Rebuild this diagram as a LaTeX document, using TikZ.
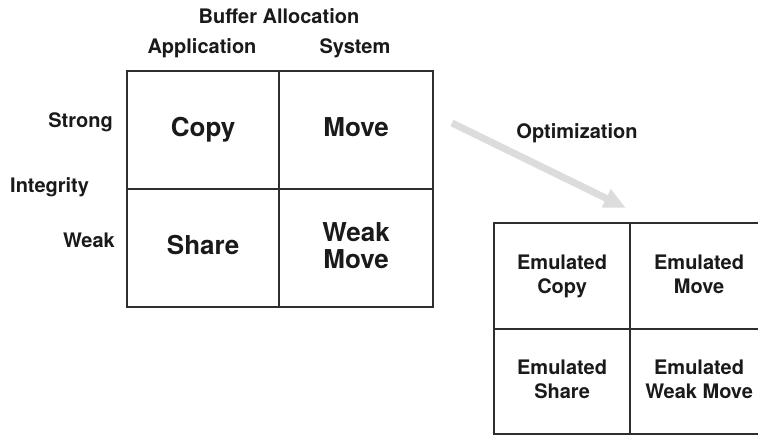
\documentclass[tikz,border=0pt]{standalone}
\usepackage{fontspec}
\setmainfont{TeX Gyre Heros}
\usetikzlibrary{arrows.meta}
\definecolor{ink}{HTML}{1A1A1A}
\definecolor{rule}{HTML}{2E2E2E}
\definecolor{haze}{HTML}{DCDCDC}
\tikzset{
  cell/.style={draw=rule, line width=2.2pt, rectangle, inner sep=0pt, anchor=north west,
    text=ink, font=\bfseries\fontsize{26}{29}\selectfont, align=center,
    execute at end node={\vphantom{y}}},
  ecell/.style={cell, font=\bfseries\fontsize{20}{24}\selectfont},
  lbl/.style={text=ink, font=\bfseries\fontsize{20}{23}\selectfont, inner sep=0pt},
}
\begin{document}
\begin{tikzpicture}[x=1pt, y=-1pt]
  \clip (0,0) rectangle (758,435);
  \fill[white] (0,0) rectangle (758,435);

  % buffer allocation / integrity matrix
  \node[cell, minimum width=152pt, minimum height=118pt] (copy)  at (126,70)  {Copy};
  \node[cell, minimum width=154pt, minimum height=118pt] (move)  at (278,70)  {Move};
  \node[cell, minimum width=152pt, minimum height=118pt] (share) at (126,188) {Share};
  \node[cell, minimum width=154pt, minimum height=118pt] (wmove) at (278,188) {Weak\\[-2pt]Move};

  % axis labels
  \node[lbl] (buf)   at (279,16)  {Buffer Allocation};
  \node[lbl] (app)   at (202,48)  {Application};
  \node[lbl] (sys)   at (355,48)  {System};
  \node[lbl, anchor=east] (strong) at (113,122) {Strong};
  \node[lbl, anchor=west] (integ)  at (10,187)  {Integrity};
  \node[lbl, anchor=east] (weak)   at (115,240) {Weak};

  % emulated matrix
  \node[ecell, minimum width=136pt, minimum height=106pt] (ecopy)  at (493,222) {Emulated\\Copy};
  \node[ecell, minimum width=138pt, minimum height=106pt] (emove)  at (629,222) {Emulated\\Move};
  \node[ecell, minimum width=136pt, minimum height=105pt] (eshare) at (493,328) {Emulated\\Share};
  \node[ecell, minimum width=138pt, minimum height=105pt] (ewmove) at (629,328) {Emulated\\Weak Move};

  % optimization arrow
  \coordinate (optA) at (452,123);
  \coordinate (optB) at (626,208);
  \draw[haze, line width=7pt, -{Triangle[length=22pt, width=19pt]}] (optA) -- (optB);
  \node[lbl] (opt) at (577,133) {Optimization};
\end{tikzpicture}
\end{document}
